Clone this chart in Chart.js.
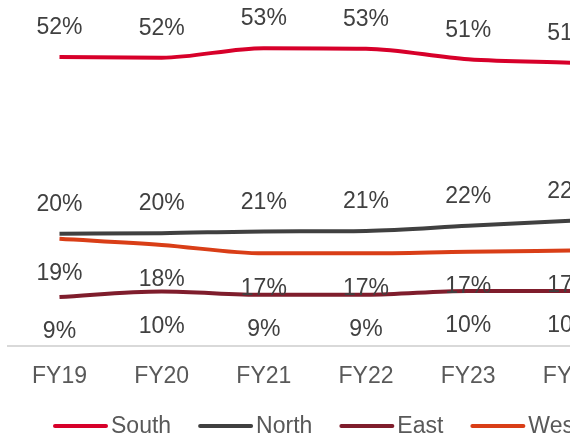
<!DOCTYPE html>
<html>
<head>
<meta charset="utf-8">
<script src="https://cdn.jsdelivr.net/npm/chart.js@4.4.1/dist/chart.umd.min.js"></script>
<style>
  html, body { margin: 0; padding: 0; background: #fff; overflow: hidden; }
  #wrap { position: relative; width: 630px; height: 437px; }
</style>
</head>
<body>
<div id="wrap"><canvas id="grafico"></canvas></div>
<script>
// dados do grafico
const anos = ['FY19', 'FY20', 'FY21', 'FY22', 'FY23', 'FY24'];
const south = [51.6, 51.5, 53.2, 53.1, 51.2, 50.6];
const north = [20.1, 20.2, 20.5, 20.6, 21.5, 22.4];
const east  = [8.8, 9.8, 9.2, 9.2, 9.9, 9.9];
const west  = [19.2, 18.1, 16.6, 16.6, 16.9, 17.1];

const fonte = '"Liberation Sans", Arial, sans-serif';

// rotulos de valor em cima / embaixo da linha
const rotulos = {
    id: 'rotulos',
    afterDatasetsDraw(chart) {
        const ctx = chart.ctx;
        ctx.save();
        ctx.font = '23px ' + fonte;
        ctx.fillStyle = '#404040';
        ctx.textAlign = 'center';
        ctx.textBaseline = 'middle';
        chart.data.datasets.forEach((ds, i) => {
            const meta = chart.getDatasetMeta(i);
            const desloc = ds.rotulo === 'acima' ? -29 : 35;
            meta.data.forEach((pt, j) => {
                ctx.fillText(Math.round(ds.data[j]) + '%', pt.x, pt.y + desloc);
            });
        });
        ctx.restore();
    }
};

// legenda desenhada a mao (linha + texto)
const legenda = {
    id: 'legenda',
    afterDraw(chart) {
        const ctx = chart.ctx;
        ctx.save();
        ctx.font = '23px ' + fonte;
        ctx.textBaseline = 'middle';
        ctx.textAlign = 'left';
        let x = 53;
        const y = 426;
        chart.data.datasets.forEach(ds => {
            ctx.strokeStyle = ds.borderColor;
            ctx.lineWidth = 4;
            ctx.lineCap = 'round';
            ctx.beginPath();
            ctx.moveTo(x + 2, y);
            ctx.lineTo(x + 53, y);
            ctx.stroke();
            ctx.fillStyle = '#595959';
            ctx.fillText(ds.label, x + 58, y + 1);
            x += 58 + ctx.measureText(ds.label).width + 27;
        });
        ctx.restore();
    }
};

const cores = ['#D7002A', '#404040', '#7F1D2C', '#D93E17'];

function serie(nome, valores, cor, pos) {
    return {
        label: nome,
        data: valores,
        borderColor: cor,
        backgroundColor: cor,
        borderWidth: 4,
        pointRadius: 0,
        cubicInterpolationMode: 'monotone',
        fill: false,
        rotulo: pos
    };
}

new Chart(document.getElementById('grafico'), {
    type: 'line',
    data: {
        labels: anos,
        datasets: [
            serie('South', south, cores[0], 'acima'),
            serie('North', north, cores[1], 'acima'),
            serie('East', east, cores[2], 'abaixo'),
            serie('West', west, cores[3], 'abaixo')
        ]
    },
    options: {
        responsive: true,
        maintainAspectRatio: false,
        animation: false,
        layout: {
            autoPadding: false,
            padding: { top: 10, left: 8.4, right: 8.6, bottom: 31 }
        },
        plugins: {
            legend: { display: false },
            tooltip: { enabled: false }
        },
        scales: {
            x: {
                offset: true,
                grid: { display: false, drawTicks: false },
                border: { display: true, color: '#D9D9D9', width: 2 },
                ticks: {
                    color: '#595959',
                    padding: 16,
                    font: { size: 23, family: fonte }
                }
            },
            y: {
                display: false,
                min: 0,
                max: 60
            }
        }
    },
    plugins: [rotulos, legenda]
});
</script>
</body>
</html>
